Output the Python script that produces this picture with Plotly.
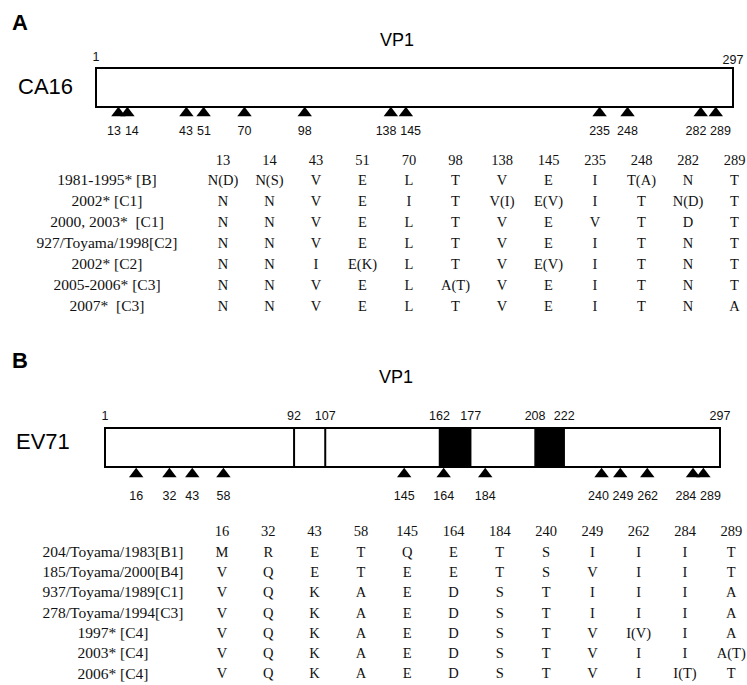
import plotly.graph_objects as go

W, H = 747, 685

# ---------------- data ----------------
VP1_LENGTH = 297

CA16_SITES = [13, 14, 43, 51, 70, 98, 138, 145, 235, 248, 282, 289]
CA16_STRAINS = ["1981-1995* [B]", "2002* [C1]", "2000, 2003*  [C1]", "927/Toyama/1998[C2]",
                "2002* [C2]", "2005-2006* [C3]", "2007*  [C3]"]
CA16_RESIDUES = [
    ["N(D)", "N(S)", "V", "E", "L", "T", "V", "E", "I", "T(A)", "N", "T"],
    ["N", "N", "V", "E", "I", "T", "V(I)", "E(V)", "I", "T", "N(D)", "T"],
    ["N", "N", "V", "E", "L", "T", "V", "E", "V", "T", "D", "T"],
    ["N", "N", "V", "E", "L", "T", "V", "E", "I", "T", "N", "T"],
    ["N", "N", "I", "E(K)", "L", "T", "V", "E(V)", "I", "T", "N", "T"],
    ["N", "N", "V", "E", "L", "A(T)", "V", "E", "I", "T", "N", "T"],
    ["N", "N", "V", "E", "L", "T", "V", "E", "I", "T", "N", "A"],
]

EV71_SITES = [16, 32, 43, 58, 145, 164, 184, 240, 249, 262, 284, 289]
EV71_STRAINS = ["204/Toyama/1983[B1]", "185/Toyama/2000[B4]", "937/Toyama/1989[C1]",
                "278/Toyama/1994[C3]", "1997* [C4]", "2003* [C4]", "2006* [C4]"]
EV71_RESIDUES = [
    ["M", "R", "E", "T", "Q", "E", "T", "S", "I", "I", "I", "T"],
    ["V", "Q", "E", "T", "E", "E", "T", "S", "V", "I", "I", "T"],
    ["V", "Q", "K", "A", "E", "D", "S", "T", "I", "I", "I", "A"],
    ["V", "Q", "K", "A", "E", "D", "S", "T", "I", "I", "I", "A"],
    ["V", "Q", "K", "A", "E", "D", "S", "T", "V", "I(V)", "I", "A"],
    ["V", "Q", "K", "A", "E", "D", "S", "T", "V", "I", "I", "A(T)"],
    ["V", "Q", "K", "A", "E", "D", "S", "T", "V", "I", "I(T)", "T"],
]
EV71_BOUNDARIES = [1, 92, 107, 162, 177, 208, 222, 297]
EV71_DIVIDERS = [92, 107]
EV71_BLOCKS = [(162, 177), (208, 222)]

# ---------------- layout constants (pixels) ----------------
SANS = "Liberation Sans, Arial, sans-serif"
SERIF = "Liberation Serif, Times New Roman, serif"
INK = "#111111"

A = dict(box_x0=96, box_x1=733, box_y0=68, box_y1=107, tri_y=113, lab_y=132,
         head_y=161, row_y0=181, row_dy=21.0, col_x0=223, col_dx=46.5, name_x=107)
B = dict(box_x0=105, box_x1=720, box_y0=428, box_y1=467, tri_y=474, lab_y=497,
         head_y=532, row_y0=553, row_dy=20.3, col_x0=222, col_dx=46.3, name_x=113)


def axis_range(p0, p1):
    # residue -> pixel linear map with residue 1 at p0 and VP1_LENGTH at p1
    b = (p1 - p0) / (VP1_LENGTH - 1)
    return [1 + (0 - p0) / b, 1 + (W - p0) / b], b


def spread(xs, gaps):
    xs = list(xs)
    for _ in range(500):
        moved = False
        for i in range(len(xs) - 1):
            d = xs[i + 1] - xs[i]
            g = gaps[i]
            if d < g - 1e-6:
                s = (g - d) / 2
                xs[i] -= s
                xs[i + 1] += s
                moved = True
        if not moved:
            break
    return xs


fig = go.Figure()


def draw_panel(P, sites, strains, residues, xref):
    rng, b = axis_range(P["box_x0"], P["box_x1"])
    px = [P["box_x0"] + (s - 1) * b for s in sites]
    # marker dodge (triangles ~9px wide min separation)
    mpx = spread(px, [9] * (len(px) - 1))
    mres = [1 + (p - P["box_x0"]) / b for p in mpx]
    # label dodge
    labs = [str(s) for s in sites]
    gaps = [(len(labs[i]) + len(labs[i + 1])) / 2 * 6.7 + 4.5 for i in range(len(labs) - 1)]
    lpx = spread(px, gaps)

    fig.add_trace(go.Scatter(
        x=mres, y=[P["tri_y"]] * len(sites), xaxis=xref, yaxis="y", mode="markers",
        marker=dict(symbol="triangle-up", size=12.5, color="black", line=dict(width=0)),
        cliponaxis=False, hoverinfo="skip"))
    fig.add_trace(go.Scatter(
        x=lpx, y=[P["lab_y"]] * len(sites), xaxis="x3", yaxis="y", mode="text",
        text=labs, textfont=dict(family=SANS, size=12.5, color=INK),
        textposition="middle center", cliponaxis=False, hoverinfo="skip"))

    # table header
    cols = [P["col_x0"] + i * P["col_dx"] for i in range(len(sites))]
    fig.add_trace(go.Scatter(
        x=cols, y=[P["head_y"]] * len(sites), xaxis="x3", yaxis="y", mode="text",
        text=labs, textfont=dict(family=SERIF, size=14.5, color=INK),
        textposition="middle center", cliponaxis=False, hoverinfo="skip"))
    # rows
    for r, (name, row) in enumerate(zip(strains, residues)):
        y = P["row_y0"] + r * P["row_dy"]
        fig.add_trace(go.Scatter(
            x=[P["name_x"]], y=[y], xaxis="x3", yaxis="y",
            mode="text", text=[name],
            textfont=dict(family=SERIF, size=15.5, color=INK),
            textposition="middle center", cliponaxis=False, hoverinfo="skip"))
        fig.add_trace(go.Scatter(
            x=cols, y=[y] * len(cols), xaxis="x3", yaxis="y",
            mode="text", text=row,
            textfont=dict(family=SERIF, size=14.5, color=INK),
            textposition="middle center", cliponaxis=False, hoverinfo="skip"))

    # protein box
    fig.add_shape(type="rect", xref=xref, yref="y", x0=1, x1=VP1_LENGTH,
                  y0=P["box_y0"], y1=P["box_y1"], line=dict(color="black", width=2),
                  fillcolor="white", layer="below")
    return rng


rngA = draw_panel(A, CA16_SITES, CA16_STRAINS, CA16_RESIDUES, "x")
rngB = draw_panel(B, EV71_SITES, EV71_STRAINS, EV71_RESIDUES, "x2")

# EV71 blocks and dividers
for (s0, s1) in EV71_BLOCKS:
    fig.add_shape(type="rect", xref="x2", yref="y", x0=s0, x1=s1,
                  y0=B["box_y0"], y1=B["box_y1"], line=dict(color="black", width=1.5),
                  fillcolor="black", layer="above")
for d in EV71_DIVIDERS:
    fig.add_shape(type="line", xref="x2", yref="y", x0=d, x1=d,
                  y0=B["box_y0"], y1=B["box_y1"], line=dict(color="black", width=2),
                  layer="above")
# boundary numbers above EV71 box
fig.add_trace(go.Scatter(
    x=EV71_BOUNDARIES, y=[417] * len(EV71_BOUNDARIES), xaxis="x2", yaxis="y",
    mode="text", text=[str(v) for v in EV71_BOUNDARIES],
    textfont=dict(family=SANS, size=12.5, color=INK), textposition="middle center",
    cliponaxis=False, hoverinfo="skip"))
# 1 / 297 above CA16 box
fig.add_trace(go.Scatter(
    x=[1, VP1_LENGTH], y=[58, 61], xaxis="x", yaxis="y",
    mode="text", text=["1", str(VP1_LENGTH)],
    textfont=dict(family=SANS, size=12.5, color=INK), textposition="middle center",
    cliponaxis=False, hoverinfo="skip"))


# titles / labels
def ann(x, y, text, size, bold=False, family=SANS):
    fig.add_annotation(x=x, y=y, xref="x3", yref="y", text=f"<b>{text}</b>" if bold else text,
                       showarrow=False, xanchor="center", yanchor="middle",
                       font=dict(family=family, size=size, color="black"))


ann(20, 22, "A", 22, bold=True)
ann(20, 360, "B", 22, bold=True)
ann(397, 40, "VP1", 18)
ann(396, 377, "VP1", 18)
ann(45, 86, "CA16", 22)
ann(43, 441, "EV71", 22)

fig.update_layout(
    width=W, height=H, autosize=False,
    margin=dict(l=0, r=0, t=0, b=0),
    paper_bgcolor="white", plot_bgcolor="white", showlegend=False,
    xaxis=dict(domain=[0, 1], range=rngA, visible=False, anchor="y"),
    xaxis2=dict(domain=[0, 1], range=rngB, visible=False, anchor="y", overlaying="x"),
    xaxis3=dict(domain=[0, 1], range=[0, W], visible=False, anchor="y", overlaying="x"),
    yaxis=dict(domain=[0, 1], range=[H, 0], visible=False),
)

fig.write_html("out.html")
